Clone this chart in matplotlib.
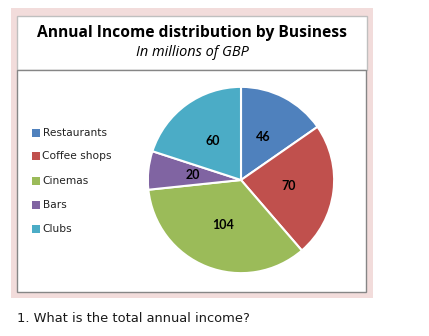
import matplotlib
matplotlib.use("Agg")
import matplotlib.pyplot as plt
from matplotlib.patches import Rectangle

# Data
categories = ["Restaurants", "Coffee shops", "Cinemas", "Bars", "Clubs"]
income = [46, 70, 104, 20, 60]
colors = ["#4F81BD", "#C0504D", "#9BBB59", "#8064A2", "#4BACC6"]
title = "Annual Income distribution by Business"
subtitle = "In millions of GBP"
question = "1. What is the total annual income?"

W, H = 429, 336
fig = plt.figure(figsize=(W / 100, H / 100), dpi=100)
fig.patch.set_facecolor("white")

# Full-figure axes in pixel coordinates for frames and text
bg = fig.add_axes([0, 0, 1, 1])
bg.set_xlim(0, W)
bg.set_ylim(H, 0)
bg.axis("off")

bg.add_patch(Rectangle((11, 8), 362, 290, facecolor="#F2DCDB", edgecolor="none"))
bg.add_patch(Rectangle((17, 16), 350, 54, facecolor="white", edgecolor="#BFBFBF", lw=1))
bg.add_patch(Rectangle((17, 70), 349, 222, facecolor="white", edgecolor="#868686", lw=1))

renderer = fig.canvas.get_renderer()


def fit_text(x, y, s, target_w, ha="left", **kw):
    t = bg.text(x, y, s, ha=ha, va="center", fontsize=10, **kw)
    w = t.get_window_extent(renderer).width
    t.set_fontsize(10 * target_w / w)
    return t


fit_text(192, 33, title, 310, ha="center", fontweight="bold", family="Open Sans", color="black")
fit_text(192, 53, subtitle, 113, ha="center", style="italic", family="Open Sans", color="black")
fit_text(17, 319, question, 231, family="DejaVu Sans", color="#1a1a1a")

# Legend
legend_y = [133, 156, 181, 205, 229]
probe = bg.text(0, 0, "Restaurants", fontsize=10, family="DejaVu Sans")
leg_fs = 10 * 64 / probe.get_window_extent(renderer).width
probe.remove()
for cat, col, ly in zip(categories, colors, legend_y):
    bg.add_patch(Rectangle((32, ly - 4), 8, 8, facecolor=col, edgecolor="none"))
    bg.text(42.5, ly, cat, ha="left", va="center", fontsize=leg_fs,
            family="DejaVu Sans", color="#222222")

# Pie
cx, cy, r = 241, 180, 95
ax = fig.add_axes([(cx - r) / W, (H - cy - r) / H, 2 * r / W, 2 * r / H])
total = sum(income)
wedges, texts, autotexts = ax.pie(
    income,
    colors=colors,
    startangle=90,
    counterclock=False,
    autopct=lambda p: f"{round(p * total / 100)}",
    pctdistance=0.52,
    wedgeprops=dict(edgecolor="white", linewidth=1.5),
    textprops=dict(fontsize=9, fontweight="bold", family="Lato", color="black"),
)
ax.set_xlim(-1.02, 1.02)
ax.set_ylim(-1.02, 1.02)
ax.axis("off")

fig.savefig("out.png", dpi=100, facecolor="white")
